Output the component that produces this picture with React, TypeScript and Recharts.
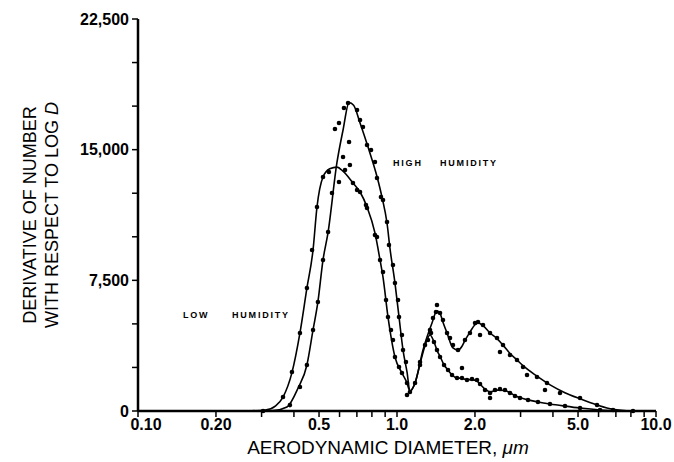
import React from 'react';
import {
  ComposedChart,
  Line,
  Scatter,
  XAxis,
  YAxis,
} from 'recharts';

// aerodynamic diameter (um) vs dN/dlogD
const lowCurveX = [
  0.26, 0.31, 0.34, 0.363, 0.393, 0.422, 0.449, 0.474, 0.491, 0.518, 0.55, 0.586, 0.62, 0.676,
  0.72, 0.766, 0.822, 0.86, 0.883, 0.923, 0.982, 1.045, 1.093, 1.122, 1.174, 1.227, 1.28, 1.341,
  1.39, 1.43, 1.47, 1.52, 1.574, 1.631, 1.705, 1.78, 1.86, 1.95, 2.04, 2.09, 2.19, 2.29, 2.45,
  2.61, 2.73, 2.86, 3.0, 3.2, 3.5, 3.9, 4.45, 5.09, 6.08, 7.3,
];
const lowCurveY = [
  0, 60, 300, 800, 2200, 4480, 7060, 9240, 11710, 13430, 13900, 14000, 13750, 13090,
  12570, 11710, 10220, 8670, 7690, 5400, 3100, 2180, 1610, 1150, 1610, 2700, 3700, 4360,
  3960, 3450, 3100, 2640, 2353, 2066, 1894, 1880, 1800, 1800, 1700, 1550, 1250, 1100, 1200,
  1180, 1050, 880, 760, 640, 520, 400, 280, 170, 60, 0,
];

const highCurveX = [
  0.3, 0.332, 0.376, 0.415, 0.449, 0.474, 0.495, 0.518, 0.542, 0.586, 0.619, 0.653, 0.68, 0.72,
  0.773, 0.838, 0.875, 0.915, 0.94, 0.982, 1.018, 1.055, 1.093, 1.122, 1.174, 1.26, 1.365, 1.427,
  1.466, 1.505, 1.56, 1.645, 1.72, 1.78, 1.83, 1.913, 2.0, 2.055, 2.148, 2.287, 2.433, 2.566,
  2.731, 2.906, 3.066, 3.471, 3.9, 4.45, 5.09, 5.92, 6.82, 8.15,
];
const highCurveY = [
  0, 20, 230, 1320, 2640, 4650, 6260, 8670, 10270, 14235, 16130, 17700, 17550, 16530,
  15150, 13430, 12280, 10790, 9300, 7350, 5400, 3500, 2240, 1150, 1610, 3500, 5050, 5750,
  5600, 5100, 4480, 3620, 3500, 3700, 4050, 4530, 4950, 5050, 4900, 4477, 4150, 3780,
  3300, 2930, 2600, 2000, 1500, 1050, 700, 350, 100, 0,
];

const lowDotsX = [
  0.304, 0.363, 0.393, 0.422, 0.449, 0.47, 0.491, 0.518, 0.546, 0.63, 0.676, 0.701, 0.72, 0.759,
  0.766, 0.822, 0.837, 0.86, 0.883, 0.907, 0.923, 0.948, 0.965, 0.982, 1.018, 1.045, 1.093,
  1.093, 1.122, 1.227, 1.317, 1.353, 1.389, 1.427, 1.466, 1.519, 1.574, 1.631, 1.705, 1.782,
  1.782, 1.863, 1.948, 2.037, 2.092, 2.187, 2.287, 2.287, 2.39, 2.498, 2.612, 2.731, 2.855,
  2.985, 3.206, 3.502, 3.896, 4.453, 5.089, 6.079,
];
const lowDotsY = [
  0, 804, 2239, 4477, 7060, 9241, 11710, 13432, 13718, 13833, 13087, 12685, 12571, 11824,
  11652, 10102, 9988, 8667, 7979, 6371, 5396, 4649, 4075, 3100, 2526, 2181, 1607,
  918, 1091, 2640, 4075, 4477, 3961, 3501, 3100, 2640, 2353, 2066, 1894, 1894,
  2468, 1779, 1837, 1779, 1550, 1205, 1033, 746, 1205, 1263, 1205, 1033, 861,
  746, 631, 517, 402, 287, 172, 57,
];

const highDotsX = [
  0.386, 0.422, 0.449, 0.474, 0.495, 0.518, 0.542, 0.561, 0.576, 0.597, 0.597, 0.619, 0.624,
  0.647, 0.653, 0.658, 0.701, 0.72, 0.739, 0.766, 0.794, 0.822, 0.837, 0.867, 0.883, 0.915,
  0.931, 0.965, 0.982, 1.009, 1.018, 1.045, 1.055, 1.083, 1.174, 1.227, 1.283, 1.341, 1.377,
  1.414, 1.427, 1.466, 1.505, 1.56, 1.602, 1.645, 1.72, 1.83, 1.913, 2.001, 2.055, 2.092,
  2.148, 2.287, 2.433, 2.498, 2.566, 2.731, 2.906, 3.066, 3.177, 3.471, 3.727, 3.794, 4.259,
  5.089, 5.919, 6.823, 8.151,
];
const highDotsY = [
  340, 1378, 2640, 4649, 6257, 8667, 10275, 12513, 16187, 16531, 13145, 14580, 17392,
  17679, 15441, 14120, 17277, 16703, 16302, 15268, 14981, 14293, 13374, 12284, 12111, 10849,
  9528, 8380, 7347, 6371, 5396, 4362, 3501, 2813, 1607, 2813, 3788, 4649, 5338,
  5683, 6084, 5625, 5223, 4477, 4190, 3788, 3501, 4075, 4477, 5051, 5109, 4362,
  4936, 4477, 4190, 3387, 3788, 3214, 2927, 2526, 2066, 1952, 1205, 1607, 1033,
  746, 344, 57, 0,
];

const xTicks = [0.1, 0.2, 0.3, 0.4, 0.5, 0.6, 0.7, 0.8, 0.9, 1, 2, 3, 4, 5, 6, 7, 8, 9, 10];
const xTickLabels: Record<string, string> = {
  '0.1': '0.10', '0.2': '0.20', '0.5': '0.5', '1': '1.0', '2': '2.0', '5': '5.0', '10': '10.0',
};
const yTicks = [0, 2500, 5000, 7500, 10000, 12500, 15000, 17500, 20000, 22500];
const yTickLabels: Record<string, string> = {
  '0': '0', '7500': '7,500', '15000': '15,000', '22500': '22,500',
};

const zip = (xs: number[], ys: number[]) => xs.map((x, i) => ({ x, y: ys[i] }));
const lowCurve = zip(lowCurveX, lowCurveY);
const highCurve = zip(highCurveX, highCurveY);
const lowDots = zip(lowDotsX, lowDotsY);
const highDots = zip(highDotsX, highDotsY);

const FONT = '"Liberation Sans", Arial, Helvetica, sans-serif';
const tickStyle = { fontSize: 16, fontWeight: 700, fill: '#000', fontFamily: FONT };

const Dot = (props: any) => <circle cx={props.cx} cy={props.cy} r={2.3} fill="#000" />;

// first label sits a little right of the axis corner in the original
function XTick({ x, y, payload }: any) {
  const label = xTickLabels[String(payload.value)];
  if (!label) return null;
  return (
    <text x={x + (label === '0.10' ? 8 : 0)} y={y} dy="0.71em" textAnchor="middle" {...tickStyle}>
      {label}
    </text>
  );
}

const tag: React.CSSProperties = {
  position: 'absolute',
  fontFamily: FONT,
  fontSize: 9,
  fontWeight: 700,
  letterSpacing: 1.8,
  lineHeight: '10px',
  color: '#000',
};

export default function App() {
  return (
    <div style={{ position: 'absolute', left: 0, top: 0, width: 674, height: 462, background: '#fff' }}>
      <ComposedChart width={674} height={462} margin={{ top: 19, right: 18, bottom: 21, left: 80 }}>
        <XAxis
          type="number"
          dataKey="x"
          scale="log"
          domain={[0.1, 10]}
          allowDataOverflow
          ticks={xTicks}
          interval={0}
          tick={<XTick />}
          tickSize={6}
          tickMargin={2}
          height={30}
          axisLine={{ stroke: '#000', strokeWidth: 2.5 }}
          tickLine={{ stroke: '#000', strokeWidth: 1.5 }}
        />
        <YAxis
          type="number"
          dataKey="y"
          domain={[0, 22500]}
          ticks={yTicks}
          interval={0}
          tickFormatter={(v: number) => yTickLabels[String(v)] ?? ''}
          tick={tickStyle}
          tickSize={6}
          tickMargin={3}
          width={58}
          axisLine={{ stroke: '#000', strokeWidth: 2.5 }}
          tickLine={{ stroke: '#000', strokeWidth: 1.5 }}
        />
        <Line data={lowCurve} dataKey="y" type="monotone" stroke="#000" strokeWidth={1.6} dot={false} isAnimationActive={false} />
        <Line data={highCurve} dataKey="y" type="monotone" stroke="#000" strokeWidth={1.6} dot={false} isAnimationActive={false} />
        <Scatter data={lowDots} dataKey="y" shape={Dot} isAnimationActive={false} />
        <Scatter data={highDots} dataKey="y" shape={Dot} isAnimationActive={false} />
      </ComposedChart>

      <div
        style={{
          position: 'absolute',
          left: 41 - 140,
          top: 215 - 22,
          width: 280,
          height: 44,
          transform: 'rotate(-90deg)',
          textAlign: 'center',
          lineHeight: '22px',
          fontSize: 18,
          fontFamily: FONT,
          color: '#000',
          whiteSpace: 'nowrap',
        }}
      >
        <div>DERIVATIVE OF NUMBER</div>
        <div>
          WITH RESPECT TO LOG <i>D</i>
        </div>
      </div>
      <div
        style={{
          position: 'absolute',
          left: 388 - 200,
          top: 437,
          width: 400,
          textAlign: 'center',
          fontSize: 19,
          lineHeight: '22px',
          fontFamily: FONT,
          color: '#000',
        }}
      >
        AERODYNAMIC DIAMETER, <i>μm</i>
      </div>

      <span style={{ ...tag, left: 393, top: 158 }}>HIGH</span>
      <span style={{ ...tag, left: 440, top: 158 }}>HUMIDITY</span>
      <span style={{ ...tag, left: 183, top: 310 }}>LOW</span>
      <span style={{ ...tag, left: 232, top: 310 }}>HUMIDITY</span>
    </div>
  );
}
